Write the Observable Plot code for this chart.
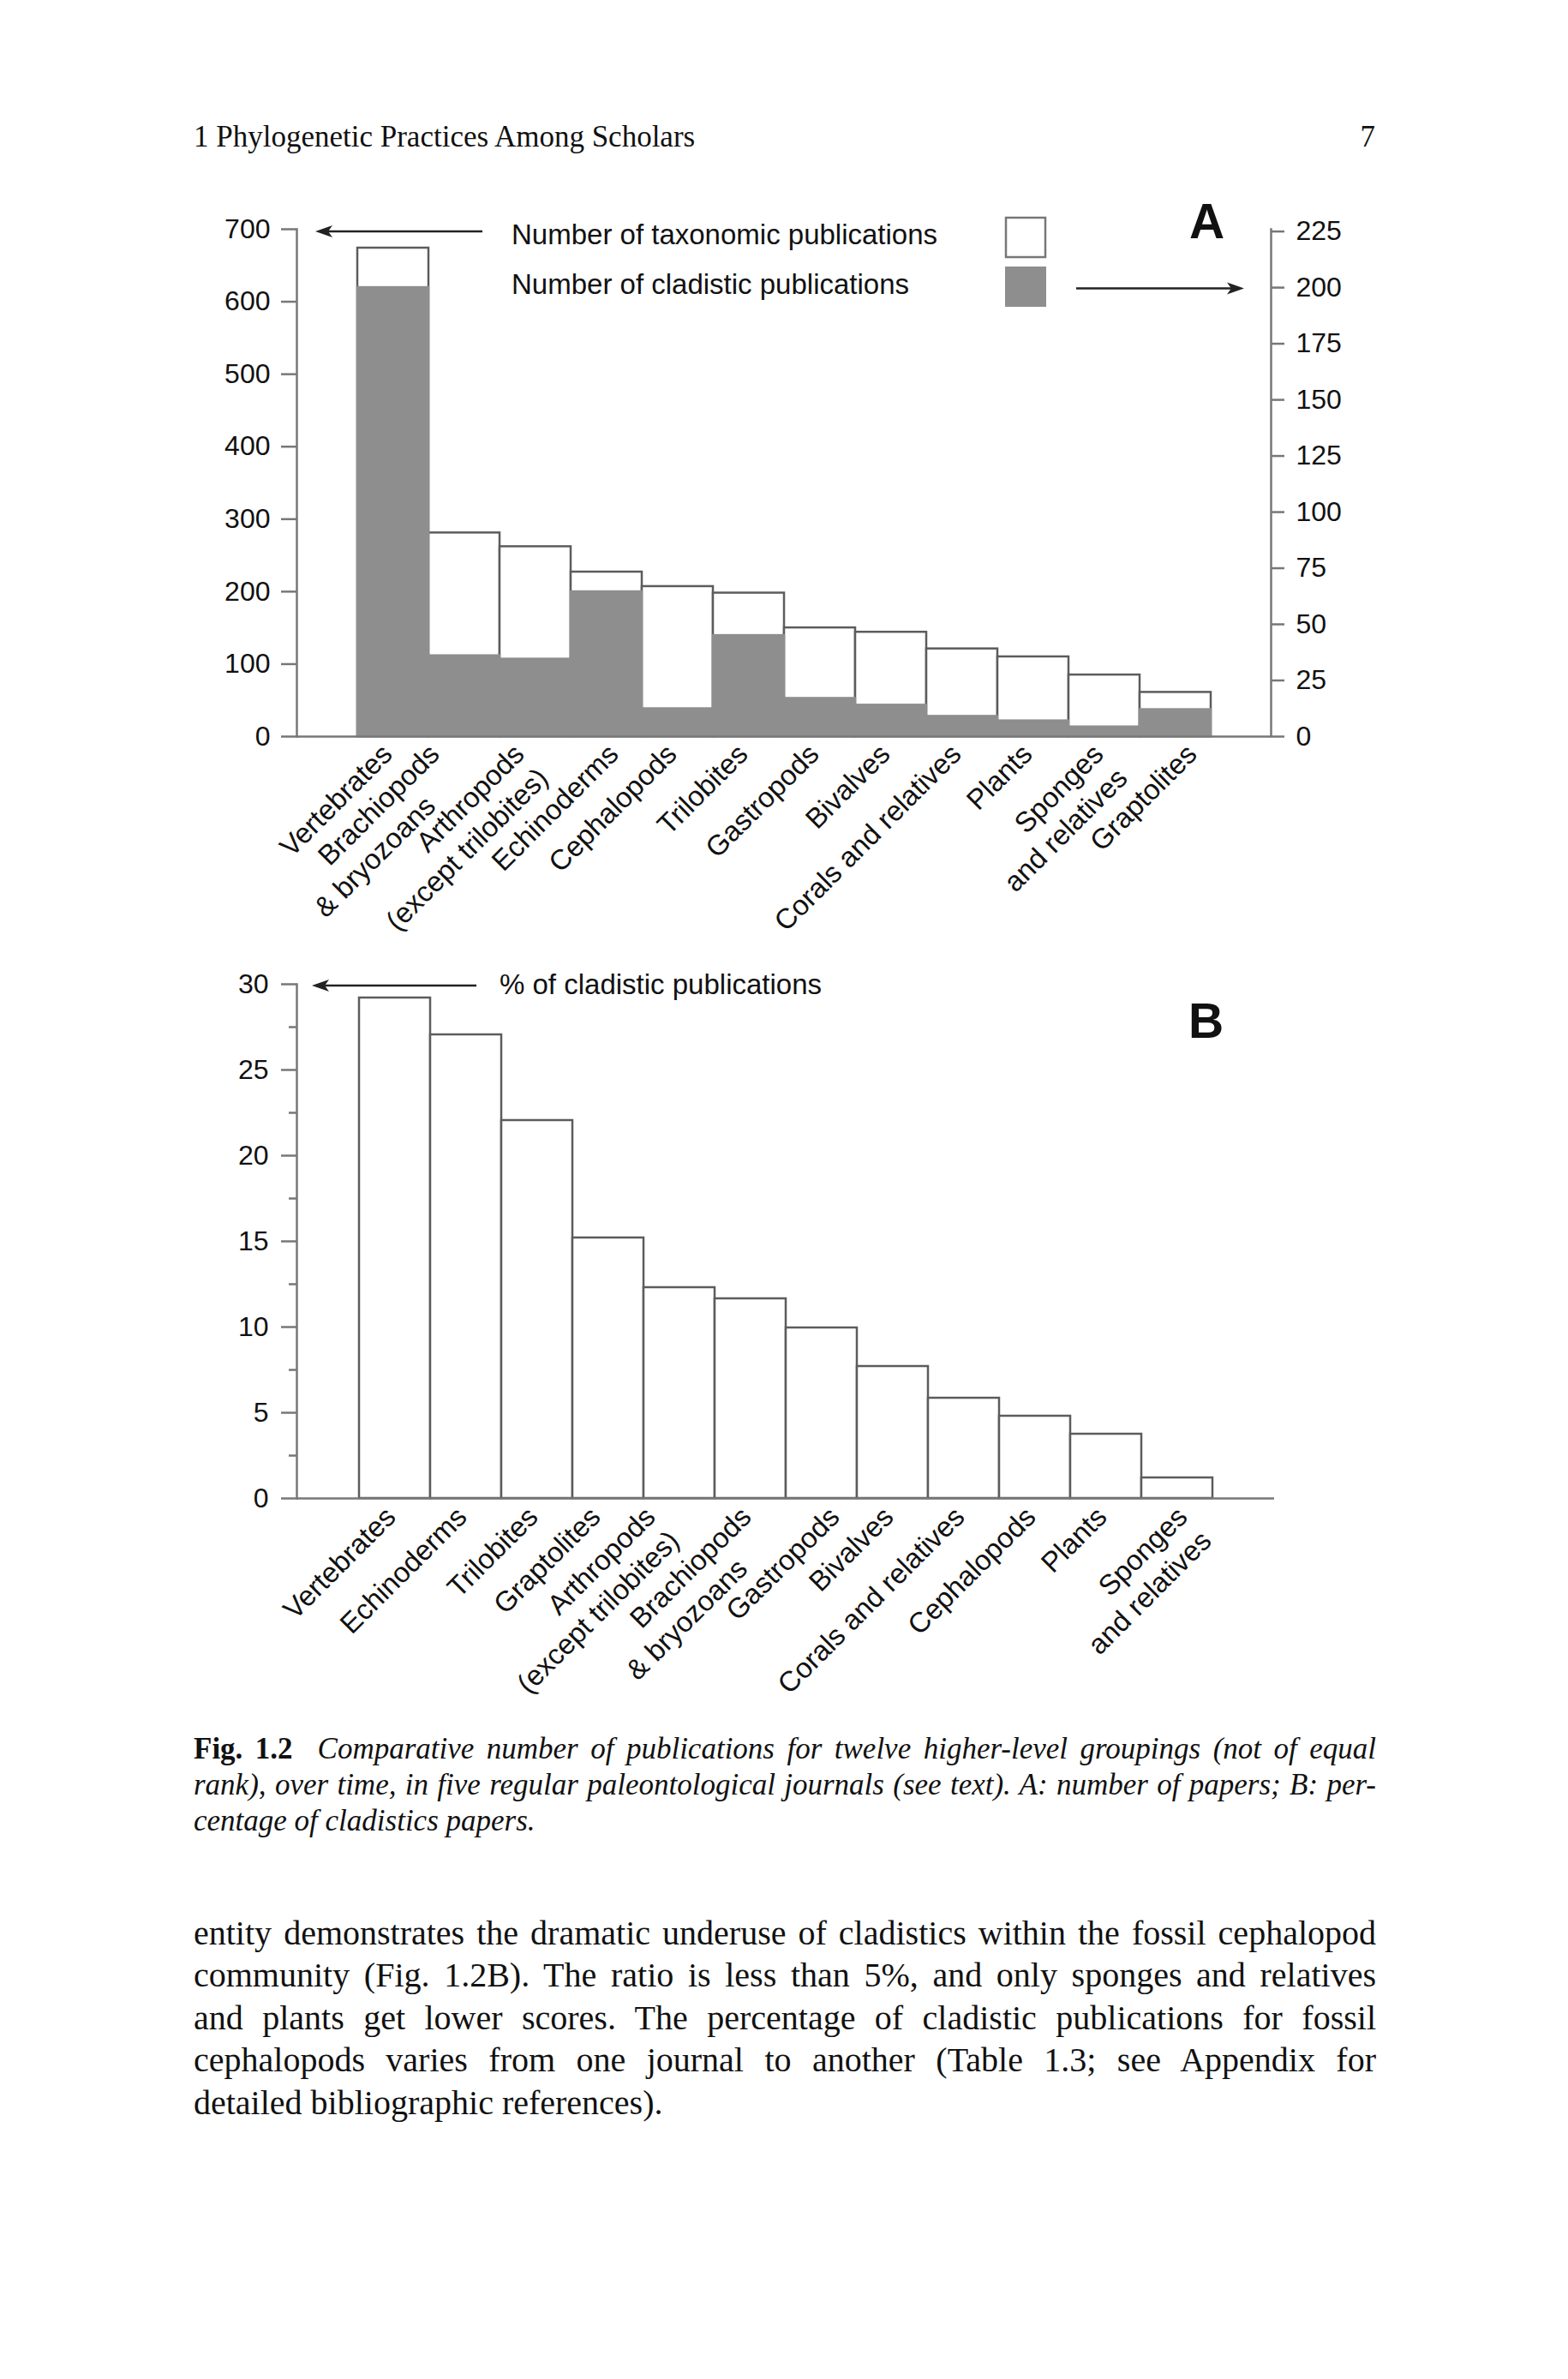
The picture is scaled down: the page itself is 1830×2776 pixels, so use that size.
<!DOCTYPE html>
<html><head><meta charset="utf-8">
<script src="https://cdn.jsdelivr.net/npm/d3@7"></script>
<script src="https://cdn.jsdelivr.net/npm/@observablehq/plot@0.6"></script>
<style>
html,body{margin:0;padding:0;background:#fff;}
#page{position:relative;width:1830px;height:2776px;overflow:hidden;background:#fff;color:#111;}
#page svg{max-width:none;}
.ln{position:absolute;white-space:nowrap;color:#111;}
.just{text-align:justify;text-align-last:justify;}
</style></head><body><div id="page"></div>
<script>
// ---------------- DATA ----------------
const categoriesA = ["Vertebrates","Brachiopods\n& bryozoans","Arthropods\n(except trilobites)","Echinoderms","Cephalopods","Trilobites","Gastropods","Bivalves","Corals and relatives","Plants","Sponges\nand relatives","Graptolites"];
const taxonomicA = [674, 281, 262, 227, 207, 198, 150, 144, 121, 110, 85, 61];
const cladisticA = [200, 36, 34.5, 64.5, 12.4, 45, 17, 14, 9, 7, 4.3, 12];
const ticksLeftA = [0,100,200,300,400,500,600,700];
const ticksRightA = [0,25,50,75,100,125,150,175,200,225];

const categoriesB = ["Vertebrates","Echinoderms","Trilobites","Graptolites","Arthropods\n(except trilobites)","Brachiopods\n& bryozoans","Gastropods","Bivalves","Corals and relatives","Cephalopods","Plants","Sponges\nand relatives"];
const percentB = [29.2, 27.05, 22.05, 15.2, 12.3, 11.65, 9.95, 7.7, 5.85, 4.8, 3.75, 1.2];
const ticksB = [0,5,10,15,20,25,30];
const minorTicksB = [2.5,7.5,12.5,17.5,22.5,27.5];

const headerText = "1 Phylogenetic Practices Among Scholars";
const pageNumber = "7";
const legendA = ["Number of taxonomic publications","Number of cladistic publications"];
const legendB = "% of cladistic publications";
const captionLines = [
  ["Fig. 1.2", "Comparative number of publications for twelve higher-level groupings (not of equal"],
  [null, "rank), over time, in five regular paleontological journals (see text). A: number of papers; B: per-"],
  [null, "centage of cladistics papers."]
];
const bodyLines = [
  "entity demonstrates the dramatic underuse of cladistics within the fossil cephalopod",
  "community (Fig. 1.2B). The ratio is less than 5%, and only sponges and relatives",
  "and plants get lower scores. The percentage of cladistic publications for fossil",
  "cephalopods varies from one journal to another (Table 1.3; see Appendix for",
  "detailed bibliographic references)."
];

// ---------------- LAYOUT / STYLE ----------------
const SANS = "'Liberation Sans', Arial, Helvetica, sans-serif";
const SERIF = "'Liberation Serif', 'Times New Roman', Times, serif";
const AXIS = "#777";
const BARSTROKE = "#5c5c5c";
const GRAY = "#8e8e8e";
// hand-set label nudges of the original typesetting (pixels along x)
const labelNudgeA = {"Brachiopods": -28, "Arthropods": -12, "Echinoderms": 15, "Graptolites": 26};
const labelNudgeB = {"Graptolites": -10, "Arthropods": -29, "Gastropods": 20, "Sponges": 11};
const page = document.getElementById("page");

function place(el, top, left) {
  el.style.position = "absolute";
  el.style.top = top + "px";
  el.style.left = left + "px";
  page.appendChild(el);
}
function serifLine(html, {x, baseline, size, width, justify}) {
  const L = Math.round(size * 1.2);
  const b = (L - 1.107 * size) / 2 + 0.891 * size;
  const d = document.createElement("div");
  d.className = "ln" + (justify ? " just" : "");
  d.style.fontFamily = SERIF;
  d.style.fontSize = size + "px";
  d.style.lineHeight = L + "px";
  d.style.top = (baseline - b) + "px";
  d.style.left = x + "px";
  if (width) d.style.width = width + "px";
  d.innerHTML = html;
  page.appendChild(d);
  return d;
}

const LABEL_SIZE = 33;
const PERP = LABEL_SIZE * 1.2 * Math.SQRT1_2;   // one line down in a -45° frame
const BACK = 46 * Math.SQRT1_2;                  // set-back along the text
function labelMarks(data, dx, dy, nudge) {
  const base = {x: "cat", frameAnchor: "bottom", rotate: -45, textAnchor: "end", lineAnchor: "top", fontSize: LABEL_SIZE, fill: "#111"};
  return data.flatMap(d => {
    const [l1, l2] = d.cat.split("\n");
    const n = nudge[l1] || 0;
    const marks = [Plot.text([d], {...base, text: () => l1, dx: dx + n, dy})];
    if (l2) {
      const back = l2.startsWith("&") ? BACK : 0;
      marks.push(Plot.text([d], {...base, text: () => l2, dx: dx + n + PERP - back, dy: dy + PERP + back}));
    }
    return marks;
  });
}

// ---------------- HEADER ----------------
serifLine(headerText, {x: 226, baseline: 172, size: 35});
const pn = serifLine(pageNumber, {x: 1405, baseline: 172, size: 35, width: 200});
pn.style.textAlign = "right";

// ---------------- CHART A ----------------
const dataA = categoriesA.map((c, i) => ({cat: c, tax: taxonomicA[i], clad: cladisticA[i]}));
const xA = {type: "band", domain: categoriesA, paddingInner: 0, paddingOuter: 0.815, align: 0.5, axis: null};
const A_TOP = 180;
const dimsA = {width: 1830, height: 940, marginLeft: 346, marginRight: 347, marginTop: 87, marginBottom: 261};
const styleP = {fontFamily: SANS, fontSize: "32px", color: "#111", background: "transparent", overflow: "visible"};

const plotA1 = Plot.plot({
  ...dimsA, style: styleP,
  x: xA,
  y: {domain: [0, 700], axis: null},
  marks: [
    Plot.barY(dataA, {x: "cat", y: "tax", fill: "white", stroke: BARSTROKE, strokeWidth: 2.5, inset: 0}),
    Plot.axisY({ticks: ticksLeftA, tickSize: 18, tickPadding: 13, stroke: AXIS, strokeWidth: 2.5, fill: "#111", label: null}),
    Plot.frame({anchor: "left", stroke: AXIS, strokeWidth: 2.5}),
    ...labelMarks(dataA, -16, 6, labelNudgeA)
  ]
});
place(plotA1, A_TOP, 0);

const plotA2 = Plot.plot({
  ...dimsA, style: styleP,
  x: xA,
  y: {domain: [0, 226], axis: null},
  marks: [
    Plot.barY(dataA, {x: "cat", y: "clad", fill: GRAY, stroke: GRAY, strokeWidth: 2.5, inset: 0}),
    Plot.ruleY([0], {stroke: AXIS, strokeWidth: 2.5}),
    Plot.axisY({anchor: "right", ticks: ticksRightA, tickSize: 15, tickPadding: 14, stroke: AXIS, strokeWidth: 2.5, fill: "#111", label: null}),
    Plot.frame({anchor: "right", stroke: AXIS, strokeWidth: 2.5})
  ]
});
place(plotA2, A_TOP, 0);

// ---------------- CHART B ----------------
const dataB = categoriesB.map((c, i) => ({cat: c, pct: percentB[i]}));
const B_TOP = 1120;
const plotB = Plot.plot({
  width: 1830, height: 880, marginLeft: 346, marginRight: 343, marginTop: 28, marginBottom: 252,
  style: styleP,
  x: {type: "band", domain: categoriesB, paddingInner: 0, paddingOuter: 0.846, align: 0.5, axis: null},
  y: {domain: [0, 30], axis: null},
  marks: [
    Plot.barY(dataB, {x: "cat", y: "pct", fill: "white", stroke: BARSTROKE, strokeWidth: 2.5, inset: 0}),
    Plot.ruleY([0], {stroke: AXIS, strokeWidth: 2.5}),
    Plot.axisY({ticks: minorTicksB, tickSize: 9, tickFormat: () => "", stroke: AXIS, strokeWidth: 2.5, label: null}),
    Plot.axisY({ticks: ticksB, tickSize: 18, tickPadding: 15, stroke: AXIS, strokeWidth: 2.5, fill: "#111", label: null}),
    Plot.frame({anchor: "left", stroke: AXIS, strokeWidth: 2.5}),
    ...labelMarks(dataB, -14, 7, labelNudgeB)
  ]
});
place(plotB, B_TOP, 0);

// ---------------- LEGENDS / ANNOTATIONS ----------------
const ov = d3.create("svg").attr("width", 1830).attr("height", 2776)
  .style("position", "absolute").style("top", "0px").style("left", "0px")
  .style("font-family", SANS).style("pointer-events", "none");
ov.append("text").attr("x", 597).attr("y", 285).attr("font-size", 33).attr("fill", "#111").text(legendA[0]);
ov.append("text").attr("x", 597).attr("y", 343).attr("font-size", 33).attr("fill", "#111").text(legendA[1]);
ov.append("rect").attr("x", 1174).attr("y", 254).attr("width", 46).attr("height", 46).attr("fill", "white").attr("stroke", AXIS).attr("stroke-width", 2.5);
ov.append("rect").attr("x", 1173).attr("y", 311).attr("width", 48).attr("height", 47).attr("fill", GRAY);
function arrow(x1, x2, y) {
  const dir = Math.sign(x2 - x1);
  ov.append("line").attr("x1", x1).attr("x2", x2 - dir * 12).attr("y1", y).attr("y2", y).attr("stroke", "#222").attr("stroke-width", 2.5);
  ov.append("path").attr("fill", "#222")
    .attr("d", `M${x2},${y} L${x2 - dir * 20},${y - 7} L${x2 - dir * 15},${y} L${x2 - dir * 20},${y + 7} Z`);
}
arrow(563, 368, 270);
arrow(1256, 1452, 336.5);
ov.append("text").attr("x", 1388).attr("y", 278).attr("font-size", 57).attr("font-weight", "bold").attr("fill", "#111").text("A");
ov.append("text").attr("x", 583).attr("y", 1160).attr("font-size", 33).attr("fill", "#111").text(legendB);
arrow(556, 364, 1150);
ov.append("text").attr("x", 1387).attr("y", 1211).attr("font-size", 57).attr("font-weight", "bold").attr("fill", "#111").text("B");
page.appendChild(ov.node());

// ---------------- CAPTION ----------------
const capBase = [2053, 2095, 2137];
captionLines.forEach(([bold, txt], i) => {
  const html = (bold ? `<b>${bold}</b>&nbsp;&nbsp;` : "") + `<i>${txt}</i>`;
  serifLine(html, {x: 226, baseline: capBase[i], size: 35, width: i < 2 ? 1380 : null, justify: i < 2});
});

// ---------------- BODY ----------------
bodyLines.forEach((t, i) => {
  serifLine(t, {x: 226, baseline: 2269 + i * 49.5, size: 40, width: i < 4 ? 1380 : null, justify: i < 4});
});
</script></body></html>
